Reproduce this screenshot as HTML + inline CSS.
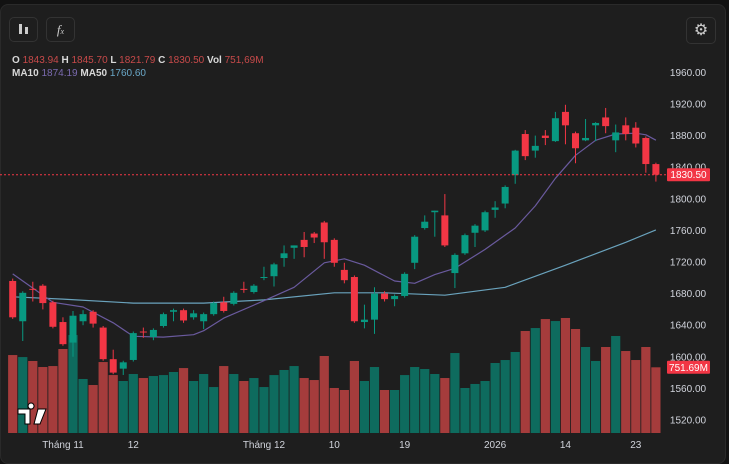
<!DOCTYPE html>
<html><head><meta charset="utf-8">
<style>
html,body{margin:0;padding:0;background:#121212;width:729px;height:459px;overflow:hidden;font-family:"Liberation Sans",sans-serif}
#panel{position:absolute;left:0;top:4px;width:726px;height:460px;background:#1e1e1e;border-radius:8px;border:1px solid #2a2a2a;box-sizing:border-box}
.btn{position:absolute;top:17px;width:29px;height:25px;border:1px solid #333;border-radius:5px;box-sizing:border-box;color:#ccc;font-size:13px;text-align:center;line-height:23px}
.leg{position:absolute;left:12px;font-size:10px;font-weight:bold;color:#d8d8d8;white-space:nowrap}
.r{color:#c84a4a;font-weight:normal}
svg{position:absolute;left:0;top:0}
</style></head><body>
<div id="panel"></div>
<div class="btn" style="left:9px">
<svg width="27" height="23" style="position:static"><rect x="9" y="6" width="3" height="10" fill="#ccc"/><rect x="15" y="9" width="3" height="7" fill="#ccc"/></svg></div>
<div class="btn" style="left:46px;font-style:italic;font-family:'Liberation Serif',serif">f<span style="font-size:8px">x</span></div>
<div class="btn" style="left:686px;top:17px;width:30px;height:27px;line-height:25px;font-size:16px">⚙</div>
<div class="leg" style="top:55px">O <span class="r">1843.94</span> H <span class="r">1845.70</span> L <span class="r">1821.79</span> C <span class="r">1830.50</span> Vol <span class="r">751,69M</span></div>
<div class="leg" style="top:68px">MA10 <span style="color:#7b6bb0;font-weight:normal">1874.19</span> MA50 <span style="color:#6aa8c8;font-weight:normal">1760.60</span></div>
<svg id="c" width="729" height="459"></svg>
<script>
const opens =[1696,1645,1686,1690,1669,1644,1618,1645,1657,1637,1597,1585,1596,1632,1625,1639,1657,1659,1650,1645,1654,1669,1667,1686,1682,1700,1702,1725,1738,1748,1756,1770,1748,1710,1701,1644,1647,1680,1673,1677,1719,1763,1783,1779,1706,1731,1757,1760,1786,1794,1830,1882,1861,1880,1873,1910,1883,1874,1893,1903,1874,1893,1890,1877,1843.94];
const highs =[1699,1683,1695,1692,1671,1650,1658,1659,1659,1639,1609,1595,1632,1637,1636,1656,1661,1661,1659,1656,1670,1676,1683,1695,1692,1714,1719,1741,1741,1758,1758,1772,1750,1719,1703,1666,1688,1683,1679,1707,1754,1779,1785,1806,1731,1756,1768,1785,1797,1817,1862,1887,1880,1887,1910,1919,1885,1901,1897,1915,1894,1903,1897,1879,1845.7];
const lows  =[1648,1620,1670,1660,1636,1614,1600,1640,1637,1595,1578,1577,1594,1624,1621,1637,1645,1643,1647,1635,1652,1656,1665,1681,1680,1697,1689,1714,1724,1726,1744,1724,1714,1693,1643,1636,1629,1670,1664,1675,1711,1761,1752,1739,1687,1729,1739,1758,1776,1788,1819,1849,1852,1868,1872,1869,1845,1873,1873,1883,1859,1874,1865,1833,1821.79];
const closes=[1650,1681,1685,1668,1638,1616,1652,1654,1642,1597,1580,1593,1630,1631,1634,1654,1659,1646,1655,1654,1668,1658,1681,1685,1690,1701,1717,1731,1741,1739,1751,1745,1719,1697,1645,1647,1680,1673,1677,1705,1752,1771,1785,1741,1729,1754,1766,1783,1789,1815,1861,1854,1867,1877,1902,1893,1864,1877,1896,1892,1884,1882,1870,1844,1830.5];
const volumes=[892,869,824,755,766,961,1121,618,549,812,663,595,675,629,652,663,698,743,595,675,526,766,675,595,629,526,663,721,766,629,606,881,515,492,824,595,755,492,492,663,755,732,675,629,915,515,561,595,801,835,927,1167,1201,1304,1281,1316,1190,984,824,984,1110,938,835,984,751.69];
const ma10Bars=[0,4,7,10,12,15,18,19,21,25,28,31,33,35,38,40,42,44,47,50,52,54,56,58,60,62,63,64];
const ma10Vals=[1705,1669,1663,1643,1626,1625,1628,1633,1649,1671,1688,1719,1724,1716,1696,1693,1704,1712,1736,1763,1791,1826,1855,1874,1882,1883,1881,1874.19];
const ma50Bars=[0,5,12,19,25,32,37,43,49,55,61,64];
const ma50Vals=[1676,1673,1668,1668,1672,1681,1681,1678,1688,1716,1745,1760.6];
const priceTicks=[1960,1920,1880,1840,1800,1760,1720,1680,1640,1600,1560,1520];
const timeLabels=["Tháng 11","12","Tháng 12","10","19","2026","14","23"];
const timeBars=[5,12,25,32,39,48,55,62];

const NS="http://www.w3.org/2000/svg";
const svg=document.getElementById('c');
const X=i=>12.7+i*10.05;
const Y=v=>104+(1920-v)*0.79;
const VY=m=>433-m*0.0874;
function mk(t,a,p){const e=document.createElementNS(NS,t);for(const k in a)e.setAttribute(k,a[k]);(p||svg).appendChild(e);return e;}
const UP="#089981",DN="#f23645",VUP="#0e6b5e",VDN="#a53c3c";
// volume
volumes.forEach((m,i)=>{const up=closes[i]>=opens[i];
 const r=mk('rect',{x:X(i)-4.6,y:VY(m),width:9.2,height:433-VY(m),fill:up?VUP:VDN});
 
 });
// MA lines
function line(bars,vals,col,name){let d='';bars.forEach((b,k)=>{d+=(k?'L':'M')+X(b).toFixed(1)+' '+Y(vals[k]).toFixed(1);});
 const p=mk('path',{d:d,stroke:col,'stroke-width':1.2,fill:'none','stroke-linejoin':'round'});
 
 }
line(ma50Bars,ma50Vals,"#6aa3bd","ma50-line");
line(ma10Bars,ma10Vals,"#6a5a9e","ma10-line");
// candles
opens.forEach((o,i)=>{const c=closes[i],up=c>=o,col=up?UP:DN;
 const w=mk('line',{x1:X(i),x2:X(i),y1:Y(highs[i]),y2:Y(lows[i]),stroke:col,'stroke-width':1});
 
 
 const t=Y(Math.max(o,c)),b=Y(Math.min(o,c));
 const r=mk('rect',{x:X(i)-3.5,y:t,width:7,height:Math.max(1,b-t),fill:col});
 
 });
// last price line
const lp=closes[closes.length-1];
const dl=mk('line',{x1:0,x2:666,y1:Y(lp),y2:Y(lp),stroke:DN,'stroke-width':1,'stroke-dasharray':'2 2'});


// axis labels
priceTicks.forEach(v=>{const t=mk('text',{x:688,y:Y(v)+3.5,fill:'#d1d4dc','font-size':10,'text-anchor':'middle','font-family':'Liberation Sans'});t.textContent=v.toFixed(2);
 
 });
function badge(y,txt,name){const g=mk('g',{});
 
 
 mk('rect',{x:667,y:y-6.5,width:43,height:13,fill:DN,rx:1},g);
 const t=mk('text',{x:688.5,y:y+3.5,fill:'#fff','font-size':10,'text-anchor':'middle','font-family':'Liberation Sans'},g);t.textContent=txt;}
badge(Y(lp),lp.toFixed(2),'last-price-badge');
badge(VY(volumes[volumes.length-1]),volumes[volumes.length-1].toFixed(2)+'M','volume-badge');
timeLabels.forEach((s,k)=>{const t=mk('text',{x:X(timeBars[k]),y:448,fill:'#d1d4dc','font-size':10,'text-anchor':'middle','font-family':'Liberation Sans'});t.textContent=s;
 
 });
// logo
const lg=mk('g',{});


mk('path',{d:'M18 409h12v15h-5v-10h-7z M31 409a3 3 0 1 1 0.1 0z M38 409h8l-6 15h-6z',fill:'#fff',stroke:'#000','stroke-width':1},lg);
</script>
</body></html>
